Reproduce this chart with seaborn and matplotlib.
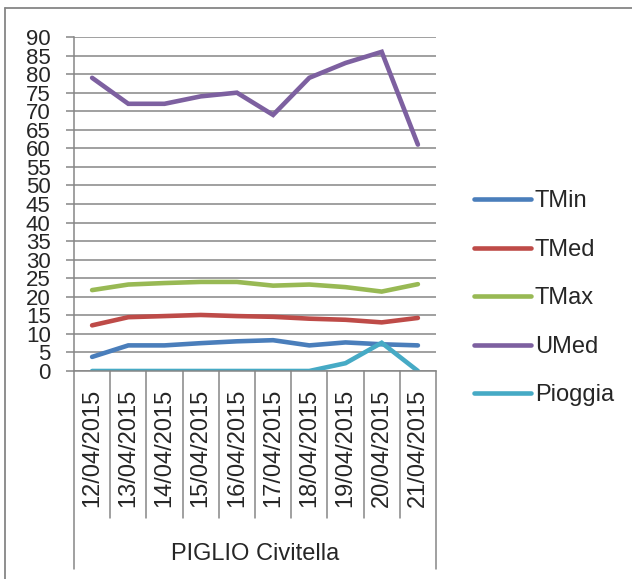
import matplotlib
matplotlib.use("Agg")
import matplotlib.pyplot as plt
import matplotlib.transforms as mtransforms
from matplotlib.lines import Line2D
import pandas as pd
import seaborn as sns

# ─────────────────────────────────────────────
# dati
# ─────────────────────────────────────────────
date = ["12/04/2015", "13/04/2015", "14/04/2015", "15/04/2015", "16/04/2015",
        "17/04/2015", "18/04/2015", "19/04/2015", "20/04/2015", "21/04/2015"]
tmin = [3.8, 6.9, 6.9, 7.5, 8.0, 8.3, 6.9, 7.7, 7.2, 6.9]
tmed = [12.3, 14.5, 14.8, 15.1, 14.8, 14.6, 14.1, 13.8, 13.1, 14.3]
tmax = [21.8, 23.3, 23.7, 24.0, 24.0, 23.0, 23.3, 22.6, 21.4, 23.4]
umed = [79, 72, 72, 74, 75, 69, 79, 83, 86, 61]
pioggia = [0, 0, 0, 0, 0, 0, 0, 2.1, 7.6, 0]

serie = ["TMin", "TMed", "TMax", "UMed", "Pioggia"]
colori = ["#4A7EBB", "#BE4B48", "#98B954", "#7D60A0", "#46AAC5"]
stazione = "PIGLIO Civitella"

df = pd.DataFrame({"Data": date, "TMin": tmin, "TMed": tmed, "TMax": tmax,
                   "UMed": umed, "Pioggia": pioggia})
df_long = df.melt(id_vars="Data", value_vars=serie, var_name="Serie", value_name="Valore")

sns.set_style("white")
plt.rcParams["font.family"] = ["Liberation Sans", "DejaVu Sans"]

W, H = 632, 579
fig = plt.figure(figsize=(W / 100, H / 100), dpi=100)
x0, x1, y0, y1 = 74, 436, 37, 371
ax = fig.add_axes([x0 / W, 1 - y1 / H, (x1 - x0) / W, (y1 - y0) / H])

grigio = "#868686"

sns.lineplot(data=df_long, x="Data", y="Valore", hue="Serie", hue_order=serie,
             palette=colori, sort=False, lw=3.3, ax=ax,
             solid_capstyle="round", solid_joinstyle="miter")

ax.set_xlim(-0.5, len(date) - 0.5)
ax.set_ylim(0, 90)
ax.set_yticks(range(0, 91, 5))
ax.yaxis.grid(True, color=grigio, lw=1.1)
ax.set_axisbelow(True)
for s in ["top", "right"]:
    ax.spines[s].set_visible(False)
for s in ["left", "bottom"]:
    ax.spines[s].set_color(grigio)
    ax.spines[s].set_linewidth(1.1)

ax.tick_params(axis="y", direction="out", length=5.8, width=1.1, color=grigio,
               pad=11, labelsize=16, left=True)
ax.set_xticks(range(len(date)))
ax.set_xticklabels(date, rotation=90, va="top", ha="center")
ax.tick_params(axis="x", length=0, pad=13, labelsize=17)
ax.set_xlabel("")
ax.set_ylabel("")

# separatori delle categorie sotto l'asse
trans = mtransforms.blended_transform_factory(ax.transData, ax.transAxes)
h_in = (518 - y1) / (y1 - y0)
h_out = (569 - y1) / (y1 - y0)
for i in range(len(date) + 1):
    xx = i - 0.5
    h = h_out if i in (0, len(date)) else h_in
    ax.add_line(Line2D([xx, xx], [0, -h], transform=trans, color=grigio,
                       lw=1.1, clip_on=False))

fig.text((x0 + x1) / 2 / W, 1 - 554 / H, stazione, ha="center", va="center",
         fontsize=17)

# legenda a destra
handles, labels = ax.get_legend_handles_labels()
ax.legend(handles, labels, loc="upper left", bbox_to_anchor=(465 / W, 1 - 181 / H),
          bbox_transform=fig.transFigure, frameon=False, fontsize=17,
          handlelength=2.4, handletextpad=0.15, labelspacing=1.12, borderaxespad=0)

# cornice esterna
fig.add_artist(Line2D([5 / W, 5 / W], [1 - 8 / H, 0], color=grigio, lw=1.3))
fig.add_artist(Line2D([5 / W, 1], [1 - 8 / H, 1 - 8 / H], color=grigio, lw=1.3))

plt.savefig("out.png", dpi=100)
plt.close()
